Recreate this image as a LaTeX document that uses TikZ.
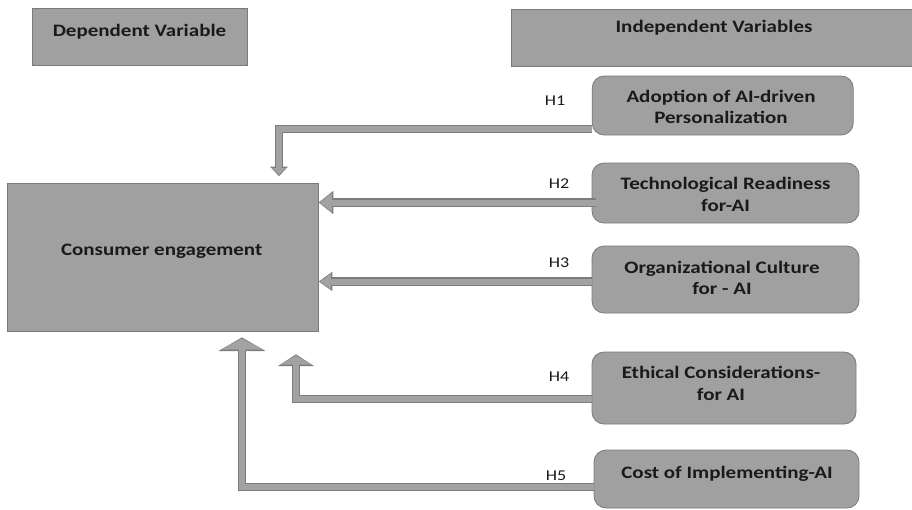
\documentclass[tikz,border=0pt]{standalone}
\usepackage{fontspec}
\setmainfont{Carlito}[FakeStretch=1.2]
\usetikzlibrary{arrows.meta}
\definecolor{boxfill}{HTML}{A0A0A0}
\definecolor{boxline}{HTML}{7A7A7A}
\definecolor{arrfill}{HTML}{A2A2A2}
\definecolor{arrline}{HTML}{7C7C7C}
\definecolor{txt}{HTML}{1A1A1A}
\tikzset{
  sqbox/.style={draw=boxline, fill=boxfill, line width=0.8pt, inner sep=0pt},
  rbox/.style={sqbox, rounded corners=12pt},
  btxt/.style={font=\fontsize{17.5}{21.5}\selectfont\bfseries, text=txt, align=center, inner sep=0pt},
  htxt/.style={font=\fontsize{15}{17}\selectfont, text=txt, inner sep=0pt},
  fatout/.style 2 args={draw=arrline, line width=8.4pt, line join=miter, line cap=butt,
     -{Triangle[width=#1pt+2.4pt, length=#2pt+1.6pt]}},
  fatin/.style 2 args={draw=arrfill, line width=6pt, line join=miter, line cap=butt,
     shorten >=1.3pt, -{Triangle[width=#1pt-1.6pt, length=#2pt-1.2pt]}},
}
\begin{document}
\begin{tikzpicture}[x=1pt,y=-1pt]
\useasboundingbox (0,0) rectangle (912,509);
% header boxes
\node[sqbox, minimum width=215pt, minimum height=57pt] (dep) at (139.5,36.7) {};
\node[btxt] (deptxt) at (139.5,31.7) {Dependent Variable};
\node[sqbox, minimum width=410pt, minimum height=57pt] (ind) at (716.6,37.7) {};
\node[btxt] (indtxt) at (714,27.7) {Independent Variables};
% dependent box
\node[sqbox, minimum width=311pt, minimum height=148pt] (ce) at (162.8,257.2) {};
\node[btxt] (cetxt) at (161.7,251.7) {Consumer engagement};
% independent boxes
\node[rbox, minimum width=261pt, minimum height=59pt] (b1) at (722.7,105.5) {};
\node[btxt] (t1) at (721,106.7) {Adoption of AI-driven\\Personalization};
\node[rbox, minimum width=267pt, minimum height=60pt] (b2) at (725.5,193) {};
\node[btxt] (t2) at (725.6,194.2) {Technological Readiness\\for-AI};
\node[rbox, minimum width=267pt, minimum height=67pt] (b3) at (725.5,279.5) {};
\node[btxt] (t3) at (722,277.8) {Organizational Culture\\for - AI};
\node[rbox, minimum width=264pt, minimum height=72pt] (b4) at (724,388) {};
\node[btxt] (t4) at (721,383.4) {Ethical Considerations-\\for AI};
\node[rbox, minimum width=265pt, minimum height=58pt] (b5) at (726.5,479) {};
\node[btxt] (t5) at (727,474.3) {Cost of Implementing-AI};
% hypothesis labels
\node[htxt] (h1) at (555,101) {H1};
\node[htxt] (h2) at (559,183.3) {H2};
\node[htxt] (h3) at (559,263) {H3};
\node[htxt] (h4) at (559,376.7) {H4};
\node[htxt] (h5) at (556,475.7) {H5};
% turning points
\coordinate (k1) at (279,128.7);
\coordinate (k2) at (596,202.5);
\coordinate (k3) at (592,281.5);
\coordinate (k4) at (296,399);
\coordinate (k5) at (242,487);
% H1
\draw[fatout={15}{8}, shorten >=6.6pt] (b1.west |- k1) -- (k1) -- (k1 |- ce.north);
\draw[fatin={15}{8}, shorten >=7.9pt] (b1.west |- k1) -- (k1) -- (k1 |- ce.north);
% H2
\draw[fatout={20}{13}] (k2) -- (k2 -| ce.east);
\draw[fatin={20}{13}] (k2) -- (k2 -| ce.east);
% H3
\draw[fatout={16}{12}] (k3) -- (k3 -| ce.east);
\draw[fatin={16}{12}] (k3) -- (k3 -| ce.east);
% H4
\draw[fatout={33}{10}, shorten >=22.8pt] (b4.west |- k4) -- (k4) -- (k4 |- ce.south);
\draw[fatin={33}{10}, shorten >=24.1pt] (b4.west |- k4) -- (k4) -- (k4 |- ce.south);
% H5
\draw[fatout={44}{12}, shorten >=5.8pt] (b5.west |- k5) -- (k5) -- (k5 |- ce.south);
\draw[fatin={44}{12}, shorten >=7.1pt] (b5.west |- k5) -- (k5) -- (k5 |- ce.south);
\end{tikzpicture}
\end{document}
